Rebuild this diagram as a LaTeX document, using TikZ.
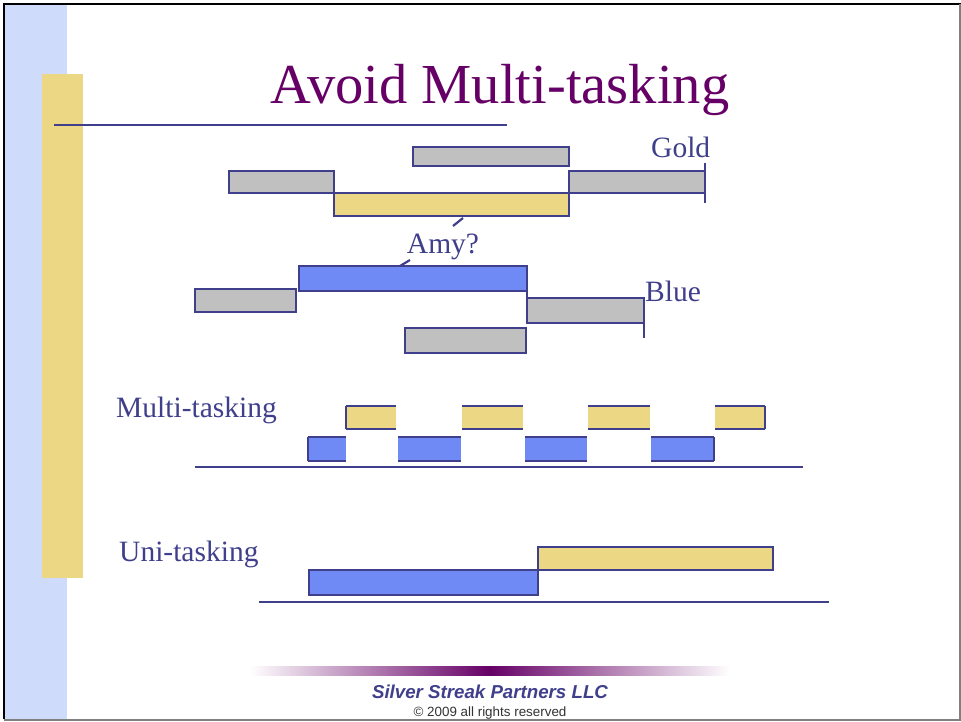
\documentclass[tikz,border=0pt]{standalone}
\usepackage{fontspec}
\setmainfont{Liberation Serif}
\newfontfamily\footsans{Liberation Sans}
\definecolor{stripblue}{HTML}{CFDBFB}
\definecolor{stripgold}{HTML}{EBD784}
\definecolor{edge}{HTML}{3F3F8C}
\definecolor{titlepurple}{HTML}{660066}
\definecolor{barblue}{HTML}{6F8AF5}
\definecolor{bargray}{HTML}{C0C0C0}
\definecolor{bargold}{HTML}{EBD784}
\tikzset{
  bar/.style={draw=edge, line width=2.8pt, anchor=north west, inner sep=0pt, outer sep=0pt},
  graybar/.style={bar, fill=bargray},
  bluebar/.style={bar, fill=barblue},
  goldbar/.style={bar, fill=bargold},
  openbar/.style={anchor=north west, inner sep=0pt, outer sep=0pt},
  edgeline/.style={draw=edge, line width=2.8pt},
  lbl/.style={text=edge, font=\fontsize{29.5}{33}\selectfont, inner sep=0pt},
}
\begin{document}
\begin{tikzpicture}[x=1pt,y=-1pt]
\useasboundingbox (0,0) rectangle (961,721);
\fill[white] (0,0) rectangle (961,721);
% side strips
\fill[stripblue] (4,4) rectangle (67,719);
\fill[stripgold] (42,74) rectangle (83,578);
% frame
\draw[black, line width=2.5pt] (4,719) -- (4,4) -- (961,4);
\draw[gray, line width=1.2pt] (960,4) -- (960,720) -- (4,720);
% title
\node[text=titlepurple, font=\fontsize{56.5}{62}\selectfont, anchor=base, inner sep=0pt] (title) at (500,103) {Avoid Multi-tasking};
\draw[edge, line width=1.2pt] (54,125) -- (507,125);

% Gold row
\node[graybar, minimum width=156, minimum height=19] (gtop) at (413,147) {};
\node[graybar, minimum width=105, minimum height=22] (gleft) at (229,171) {};
\node[goldbar, minimum width=235, minimum height=23] (gmain) at (334,193) {};
\node[graybar, minimum width=136, minimum height=22] (gright) at (569,171) {};
\draw[edgeline] (gright.north east) ++(0,-8) coordinate (gt1) -- ++(0,40) coordinate (gt2);
\node[lbl, anchor=base west] (goldlbl) at (651,157) {Gold};

% Amy
\node[lbl, anchor=base] (amy) at (443,253) {Amy?};
\coordinate (amyA) at (463,218);
\coordinate (amyB) at (453,226);
\draw[edge, line width=2.2pt] (amyA) -- (amyB);
\coordinate (amyC) at (410,260);
\coordinate (amyD) at (400,266);
\draw[edge, line width=2.2pt] (amyC) -- (amyD);

% Blue row
\node[bluebar, minimum width=228, minimum height=25] (bmain) at (299,266) {};
\node[graybar, minimum width=101, minimum height=23] (bleft) at (195,289) {};
\node[graybar, minimum width=117, minimum height=25] (bright) at (527,298) {};
\node[graybar, minimum width=121, minimum height=25] (blow) at (405,328) {};
\draw[edgeline] (bmain.south east) -- (bright.north west);
\draw[edgeline] (bright.north east) ++(0,9) coordinate (bt1) -- ++(0,31) coordinate (bt2);
\node[lbl, anchor=base west] (bluelbl) at (645,301) {Blue};

% Multi-tasking
\node[lbl, anchor=base west] (multi) at (116,417) {Multi-tasking};
\foreach \n/\a/\b in {1/346/396, 2/462/523, 3/588/650, 4/715/765}{
  \node[openbar, fill=bargold, minimum width=\b-\a, minimum height=23] (mg\n) at (\a,406) {};
  \draw[edgeline] (mg\n.north west) -- (mg\n.north east);
  \draw[edgeline] (mg\n.south west) -- (mg\n.south east);
}
\foreach \n/\a/\b in {1/308/346, 2/398/461, 3/525/587, 4/651/714}{
  \node[openbar, fill=barblue, minimum width=\b-\a, minimum height=24] (mb\n) at (\a,437) {};
  \draw[edgeline] (mb\n.north west) -- (mb\n.north east);
  \draw[edgeline] (mb\n.south west) -- (mb\n.south east);
}
\draw[edgeline] (mg1.north west) -- (mg1.south west);
\draw[edgeline] (mg4.north east) -- (mg4.south east);
\draw[edgeline] (mb1.north west) -- (mb1.south west);
\draw[edgeline] (mb4.north east) -- (mb4.south east);
\coordinate (mlA) at (195,467);
\coordinate (mlB) at (803,467);
\draw[edgeline] (mlA) -- (mlB);

% Uni-tasking
\node[lbl, anchor=base west] (uni) at (119,561) {Uni-tasking};
\node[bluebar, minimum width=229, minimum height=25] (ublue) at (309,570) {};
\node[goldbar, minimum width=235, minimum height=23] (ugold) at (538,547) {};
\coordinate (ulA) at (259,602);
\coordinate (ulB) at (829,602);
\draw[edgeline] (ulA) -- (ulB);

% footer
\shade[left color=white, right color=titlepurple] (250,666) rectangle (490,675);
\shade[left color=titlepurple, right color=white] (490,666) rectangle (730,675);
\node[text=edge, font=\footsans\bfseries\itshape\fontsize{18.7}{21}\selectfont, anchor=base] (company) at (490,698) {Silver Streak Partners LLC};
\node[text=black!80, font=\footsans\fontsize{13.4}{15}\selectfont, anchor=base] (copy) at (490,716) {\textcopyright\ 2009 all rights reserved};
\end{tikzpicture}
\end{document}
